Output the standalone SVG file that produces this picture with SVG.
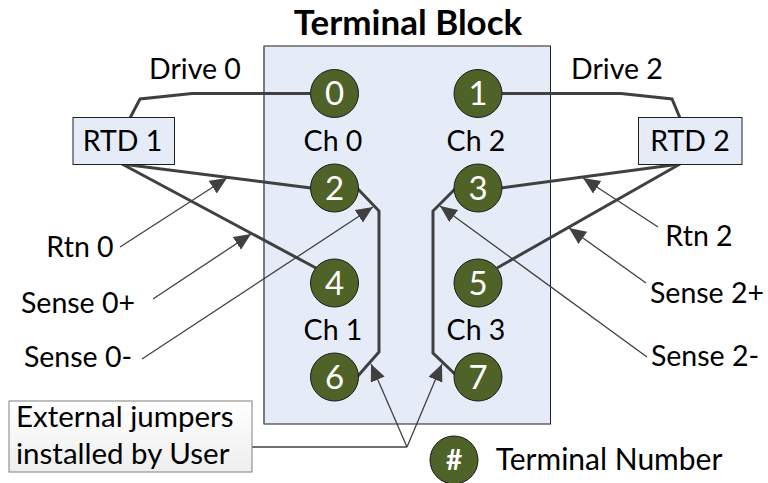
<svg xmlns="http://www.w3.org/2000/svg" width="768" height="483" viewBox="0 0 768 483">
<defs>
<marker id="ah" markerUnits="userSpaceOnUse" markerWidth="19" markerHeight="17" refX="17" refY="7.500" orient="auto"><path d="M0 0L17 7.500L0 15Z" fill="#404040"/></marker>
<linearGradient id="g" x1="0" y1="0" x2="0" y2="1"><stop offset="0" stop-color="#fff"/><stop offset="1" stop-color="#eeeeee"/></linearGradient>
</defs>
<style>
text{font-family:Lato,"Liberation Sans",sans-serif;font-size:28.500px;fill:#000;text-anchor:middle}
.n circle{fill:#4f6228;stroke:#1a1a1a;stroke-width:1}
.n text{fill:#fff;font-size:33px}
.w{fill:none;stroke:#404040;stroke-width:3}
.l{fill:none;stroke:#404040;stroke-width:1.300;marker-end:url(#ah)}
.p{fill:none;stroke:#404040;stroke-width:1.300}
.b{fill:#e6ecf7;stroke:#1f1f1f;stroke-width:1}
.s{text-anchor:start;font-size:29.500px}
</style>
<rect x="0" y="0" width="768" height="483" fill="#fff"/>
<g id="block">
<rect class="b" x="264" y="46" width="286.500" height="378"/>
<path d="M264 46V424" stroke="#777" stroke-width="1.500"/>
<text x="408" y="35" style="font-size:35px;font-weight:700">Terminal Block</text>
<text x="333" y="151">Ch 0</text>
<text x="476" y="151">Ch 2</text>
<text x="333" y="340">Ch 1</text>
<text x="476" y="340">Ch 3</text>
</g>
<g id="connectors">
<path class="w" d="M130 118L140 99L192 93.500H311"/>
<path class="w" d="M501 93.500H621L672 99L680 118"/>
<path class="w" d="M122 164L311 188"/>
<path class="w" d="M122 164L316 268"/>
<path class="w" d="M501 188L680 164"/>
<path class="w" d="M497 268L680 164"/>
<path class="w" d="M357 188L379 211V352L357 377"/>
<path class="w" d="M456 188L433 211V353L458 377"/>
<path class="l" d="M120 247L227 178"/>
<path class="l" d="M153 299L251 234"/>
<path class="l" d="M142 359L373 207"/>
<path class="l" d="M658 227L583 178"/>
<path class="l" d="M646 283L569 228"/>
<path class="l" d="M647 357L440 206"/>
<path class="p" d="M252 447H407"/>
<path class="l" d="M407 447L371 364"/>
<path class="l" d="M407 447L442 364"/>
</g>
<g id="rtd1"><rect class="b" x="73" y="117.500" width="101.500" height="47"/><text x="122.500" y="151">RTD 1</text></g>
<g id="rtd2"><rect class="b" x="638.500" y="117.500" width="103.500" height="47"/><text x="690" y="151">RTD 2</text></g>
<g id="t0" class="n"><circle cx="334.500" cy="93.500" r="24"/><text x="334.500" y="105">0</text></g>
<g id="t1" class="n"><circle cx="478" cy="93.500" r="24"/><text x="478" y="105">1</text></g>
<g id="t2" class="n"><circle cx="334.500" cy="188" r="24"/><text x="334.500" y="199.500">2</text></g>
<g id="t3" class="n"><circle cx="478" cy="188" r="24"/><text x="478" y="199.500">3</text></g>
<g id="t4" class="n"><circle cx="334.500" cy="283" r="24"/><text x="334.500" y="294.500">4</text></g>
<g id="t5" class="n"><circle cx="478" cy="283" r="24"/><text x="478" y="294.500">5</text></g>
<g id="t6" class="n"><circle cx="334.500" cy="377" r="24"/><text x="334.500" y="388.500">6</text></g>
<g id="t7" class="n"><circle cx="478" cy="377" r="24"/><text x="478" y="388.500">7</text></g>
<g id="legend" class="n"><circle cx="454" cy="460" r="24"/><text x="454" y="470" style="font-weight:700;font-size:28px">#</text></g>
<text x="195" y="79">Drive 0</text>
<text x="617" y="79">Drive 2</text>
<text x="80" y="257">Rtn 0</text>
<text x="699" y="246">Rtn 2</text>
<text x="78" y="313">Sense 0+</text>
<text x="707" y="303">Sense 2+</text>
<text x="78" y="367">Sense 0-</text>
<text x="705" y="366">Sense 2-</text>
<text x="609" y="470" style="font-size:30px">Terminal Number</text>
<g id="note"><rect x="9" y="401" width="243" height="71" fill="url(#g)" stroke="#808080" stroke-width="1"/>
<text class="s" x="16" y="427">External jumpers</text>
<text class="s" x="16" y="464">installed by User</text></g>
</svg>
